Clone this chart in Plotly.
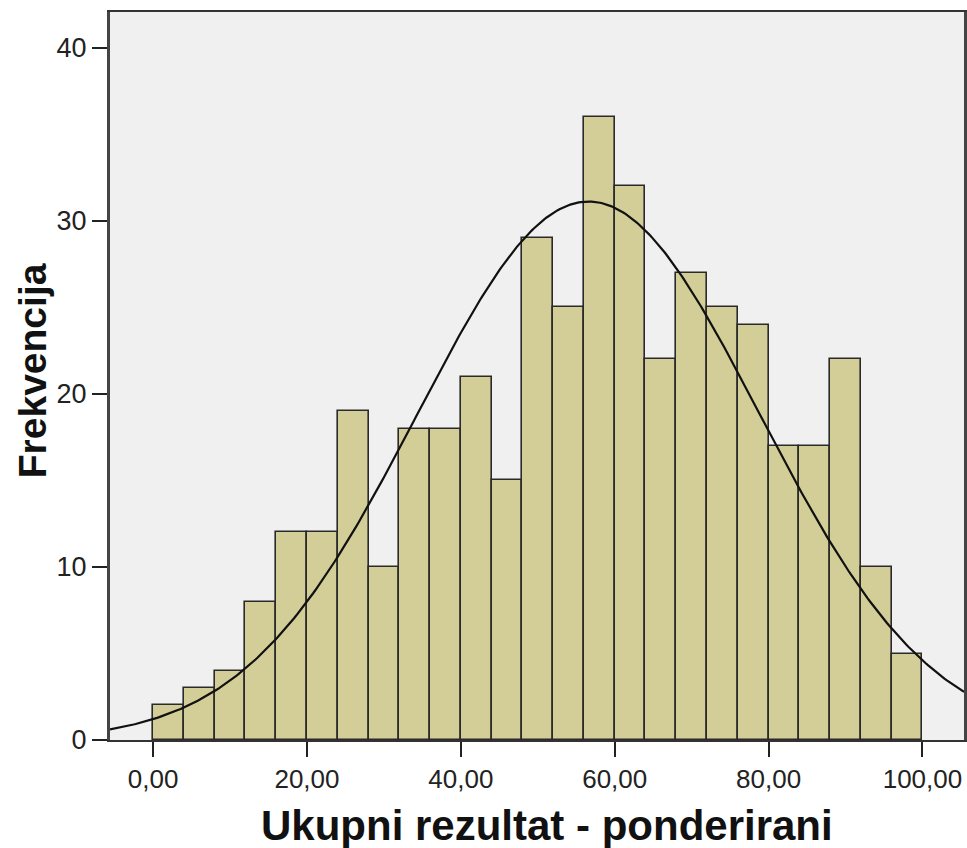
import numpy as np
import plotly.graph_objects as go

# Histogram data (bin width 4, from 0 to 100)
bin_left_edges = [0, 4, 8, 12, 16, 20, 24, 28, 32, 36, 40, 44, 48,
                  52, 56, 60, 64, 68, 72, 76, 80, 84, 88, 92, 96]
counts = [2, 3, 4, 8, 12, 12, 19, 10, 18, 18, 21, 15, 29,
          25, 36, 32, 22, 27, 25, 24, 17, 17, 22, 10, 5]
bin_width = 4

# Normal curve parameters (estimated)
mean_val = 56.6
std_val = 22.2
n_total = sum(counts)

x_tick_vals = [0, 20, 40, 60, 80, 100]
x_tick_text = ["0,00", "20,00", "40,00", "60,00", "80,00", "100,00"]
y_tick_vals = [0, 10, 20, 30, 40]

x_range = [-5.6, 105.4]
y_range = [0, 42.08]

centers = [e + bin_width / 2 for e in bin_left_edges]

xc = np.linspace(x_range[0], x_range[1], 400)
yc = n_total * bin_width / (std_val * np.sqrt(2 * np.pi)) * np.exp(-0.5 * ((xc - mean_val) / std_val) ** 2)

fig = go.Figure()
fig.add_trace(go.Bar(
    x=centers, y=counts, width=bin_width,
    marker=dict(color="#D3CE97", line=dict(color="#2A2A2A", width=1.6)),
    hoverinfo="x+y", showlegend=False,
))
fig.add_trace(go.Scatter(
    x=xc, y=yc, mode="lines",
    line=dict(color="#111111", width=2.2),
    showlegend=False, hoverinfo="skip",
))

font_family = "Liberation Sans, Arial, sans-serif"
fig.update_layout(
    width=967, height=848,
    margin=dict(l=110, r=0, t=12, b=108),
    paper_bgcolor="white",
    plot_bgcolor="#F0F0F0",
    font=dict(family=font_family, color="#222222"),
    bargap=0,
    xaxis=dict(
        range=x_range, tickvals=x_tick_vals, ticktext=x_tick_text,
        ticks="outside", ticklen=15, tickwidth=2, tickcolor="#222222",
        showline=True, linecolor="#333333", linewidth=2, mirror=True,
        showgrid=False, zeroline=False,
        tickfont=dict(size=26, family=font_family, color="#222222"),
    ),
    yaxis=dict(
        range=y_range, tickvals=y_tick_vals,
        ticks="outside", ticklen=15, tickwidth=2, tickcolor="#222222",
        showline=True, linecolor="#444444", linewidth=3, mirror=True,
        showgrid=False, zeroline=False,
        tickfont=dict(size=27, family=font_family, color="#222222"),
    ),
    annotations=[
        dict(text="<b>Ukupni rezultat - ponderirani</b>", xref="paper", yref="paper",
             x=0.512, y=-0.118, xanchor="center", yanchor="middle", showarrow=False,
             font=dict(size=42, family=font_family, color="#111111")),
        dict(text="<b>Frekvencija</b>", xref="paper", yref="paper",
             x=-0.0898, y=0.507, xanchor="center", yanchor="middle", showarrow=False,
             textangle=-90,
             font=dict(size=39, family=font_family, color="#111111")),
    ],
)

fig.write_html("out.html", config={"displayModeBar": False},
               post_script="document.body.style.margin='0';")
